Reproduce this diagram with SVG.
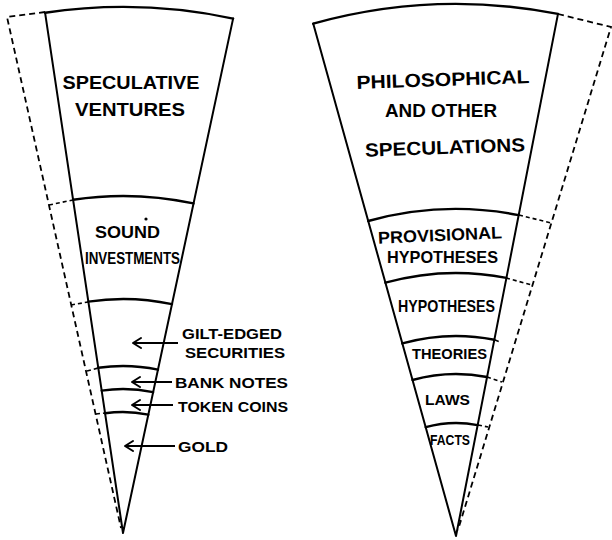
<svg xmlns="http://www.w3.org/2000/svg" width="612" height="540" viewBox="0 0 612 540">
<defs>
<style>
.edge{fill:none;stroke:#000;stroke-width:2;stroke-linejoin:round;stroke-linecap:round}
.band{fill:none;stroke:#000;stroke-width:2.4;stroke-linecap:round}
.dash{fill:none;stroke:#000;stroke-width:1.8;stroke-dasharray:6 4}
.tie{fill:none;stroke:#000;stroke-width:1.6;stroke-dasharray:4 3}
.arrow{fill:none;stroke:#000;stroke-width:2;marker-end:url(#head)}
text{font-family:"Liberation Sans",Arial,sans-serif;font-weight:bold;fill:#000;text-anchor:middle}
.big{font-size:19px}
.mid{font-size:17px}
.sm{font-size:15px}
</style>
<marker id="head" markerUnits="userSpaceOnUse" markerWidth="12" markerHeight="12" refX="0" refY="0" orient="auto" overflow="visible">
<path d="M-8,-5 L0,0 L-8,5" fill="none" stroke="#000" stroke-width="2" stroke-linecap="round" stroke-linejoin="round"/>
</marker>
</defs>
<rect width="612" height="540" fill="#fff"/>

<g id="connectors">
<!-- left cone dashed outer -->
<path class="dash" d="M45,12 L7,17 L121,528"/>
<path class="tie" d="M49,205 L73,200"/>
<path class="tie" d="M71,305 L88,302"/>
<path class="tie" d="M87,371 L98,368"/>
<path class="tie" d="M96,414 L105,413"/>
<!-- right cone dashed outer -->
<path class="dash" d="M558,14 L611,27 L458,530"/>
<path class="tie" d="M519,215 L551,223"/>
<path class="tie" d="M506,278 L532,285"/>
<path class="tie" d="M495,340 L500,342"/>
<path class="tie" d="M487,377 L502,382"/>
<path class="tie" d="M478,425 L488,427"/>
<!-- arrows -->
<path class="arrow" d="M178,343 L133,343"/>
<path class="arrow" d="M172,382 L132,382"/>
<path class="arrow" d="M173,405 L132,405"/>
<path class="arrow" d="M175,446 L125,446"/>
</g>

<g id="left-cone">
<path class="edge" d="M45.1,12.8 L123,533 L233.1,18.6"/>
<path class="band" d="M45.1,12.8 A526,526 0 0 1 233.1,18.6"/>
<path class="band" d="M73.1,199.7 A337,337 0 0 1 193.5,203.4"/>
<path class="band" d="M88.3,301.6 A234,234 0 0 1 172,304.1"/>
<path class="band" d="M98.3,367.8 A167,167 0 0 1 158,369.7"/>
<path class="band" d="M101.7,390.6 A144,144 0 0 1 153.1,392.2"/>
<path class="band" d="M105.1,413.3 A121,121 0 0 1 148.3,414.7"/>
</g>

<g id="right-cone">
<path class="edge" d="M313.2,23.6 L456,536 L558,13.9"/>
<path class="band" d="M313.2,23.6 A532,532 0 0 1 558,13.9"/>
<path class="band" d="M368.2,221 A327,327 0 0 1 518.7,215.1"/>
<path class="band" d="M385.4,282.7 A263,263 0 0 1 506.4,277.9"/>
<path class="band" d="M402.3,343.4 A200,200 0 0 1 494.4,339.7"/>
<path class="band" d="M412.5,380 A162,162 0 0 1 487.1,377"/>
<path class="band" d="M425.7,427.2 A113,113 0 0 1 477.7,425.1"/>
</g>

<g id="speculative-ventures">
<text class="big" x="131" y="89" textLength="137" lengthAdjust="spacingAndGlyphs">SPECULATIVE</text>
<text class="big" x="130" y="116" textLength="110" lengthAdjust="spacingAndGlyphs">VENTURES</text>
</g>
<g id="sound-investments">
<text class="mid" x="127.5" y="238" textLength="65" lengthAdjust="spacingAndGlyphs">SOUND</text>
<text class="mid" x="132.5" y="264" textLength="95" lengthAdjust="spacingAndGlyphs">INVESTMENTS</text>
<circle cx="146" cy="219" r="1.6" fill="#000"/>
</g>
<g id="gilt-edged">
<text class="sm" x="232" y="339" textLength="100" lengthAdjust="spacingAndGlyphs">GILT-EDGED</text>
<text class="sm" x="235" y="358" textLength="100" lengthAdjust="spacingAndGlyphs">SECURITIES</text>
</g>
<g id="bank-notes">
<text class="sm" x="231.5" y="388" textLength="113" lengthAdjust="spacingAndGlyphs">BANK NOTES</text>
</g>
<g id="token-coins">
<text class="sm" x="233" y="412" textLength="110" lengthAdjust="spacingAndGlyphs">TOKEN COINS</text>
</g>
<g id="gold">
<text class="sm" x="203" y="452" textLength="50" lengthAdjust="spacingAndGlyphs">GOLD</text>
</g>

<g id="philosophical">
<text class="big" x="443" y="86" textLength="173" lengthAdjust="spacingAndGlyphs" transform="rotate(-2 443 80)">PHILOSOPHICAL</text>
<text class="big" x="441" y="117" textLength="112" lengthAdjust="spacingAndGlyphs">AND OTHER</text>
<text class="big" x="445" y="154" textLength="160" lengthAdjust="spacingAndGlyphs" transform="rotate(-2 445 147)">SPECULATIONS</text>
</g>
<g id="provisional-hypotheses">
<text class="mid" x="440" y="241" textLength="124" lengthAdjust="spacingAndGlyphs" transform="rotate(-2.5 440 235)">PROVISIONAL</text>
<text class="mid" x="442.5" y="263" textLength="111" lengthAdjust="spacingAndGlyphs">HYPOTHESES</text>
</g>
<g id="hypotheses">
<text class="mid" x="446.5" y="312" textLength="97" lengthAdjust="spacingAndGlyphs">HYPOTHESES</text>
</g>
<g id="theories">
<text class="sm" x="449.5" y="359" textLength="75" lengthAdjust="spacingAndGlyphs">THEORIES</text>
</g>
<g id="laws">
<text class="sm" x="447.5" y="405" textLength="45" lengthAdjust="spacingAndGlyphs">LAWS</text>
</g>
<g id="facts">
<text class="sm" x="450" y="445" textLength="40" lengthAdjust="spacingAndGlyphs">FACTS</text>
</g>
</svg>
